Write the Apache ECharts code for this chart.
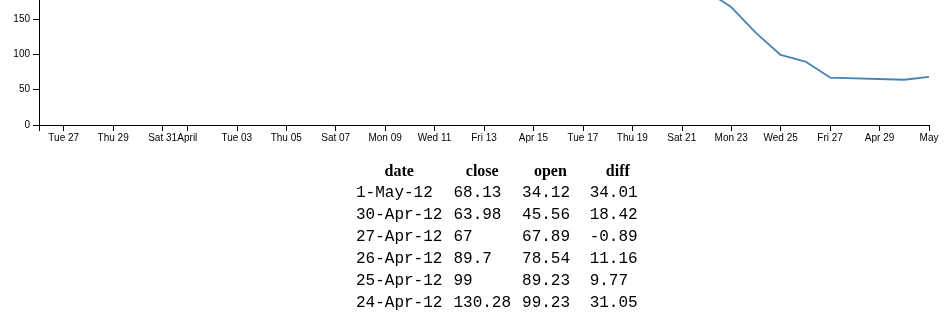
<!DOCTYPE html>
<html>
<head>
<meta charset="utf-8">
<script src="https://cdn.jsdelivr.net/npm/echarts@6/dist/echarts.min.js"></script>
<style>
  html, body { margin: 0; padding: 0; background: #fff; }
  #chart { position: absolute; left: 0; top: 0; width: 945px; height: 314px; }
  #tbl { position: absolute; left: 349.5px; top: 159px; border-collapse: separate; border-spacing: 2px; }
  #tbl th { font-family: "Liberation Serif", "Times New Roman", serif; font-weight: bold; font-size: 16px; padding: 1px 4.5px; text-align: center; }
  #tbl td { font-family: "Liberation Mono", "Courier New", monospace; font-size: 16px; padding: 1px 4.5px; text-align: left; white-space: pre; }
</style>
</head>
<body>
<div id="chart"></div>
<table id="tbl"><thead><tr id="hdr"></tr></thead><tbody id="body"></tbody></table>
<script>
// ---- chart data (date / close) ----
const dates = ['2012-03-26','2012-03-27','2012-03-28','2012-03-29','2012-03-30','2012-04-02','2012-04-03','2012-04-04','2012-04-05','2012-04-09','2012-04-10','2012-04-11','2012-04-12','2012-04-13','2012-04-16','2012-04-17','2012-04-18','2012-04-19','2012-04-20','2012-04-23','2012-04-24','2012-04-25','2012-04-26','2012-04-27','2012-04-30','2012-05-01'];
const closeValues = [606.98,614.48,617.62,609.86,599.55,618.63,629.32,624.31,633.68,636.23,628.44,626.20,622.77,605.23,580.13,543.70,443.34,345.44,234.98,166.70,130.28,99.00,89.70,67.00,63.98,68.13];

// ---- x axis ticks ----
const tickDates = ['2012-03-27','2012-03-29','2012-03-31','2012-04-01','2012-04-03','2012-04-05','2012-04-07','2012-04-09','2012-04-11','2012-04-13','2012-04-15','2012-04-17','2012-04-19','2012-04-21','2012-04-23','2012-04-25','2012-04-27','2012-04-29','2012-05-01'];
const tickLabels = ['Tue 27','Thu 29','Sat 31','April','Tue 03','Thu 05','Sat 07','Mon 09','Wed 11','Fri 13','Apr 15','Tue 17','Thu 19','Sat 21','Mon 23','Wed 25','Fri 27','Apr 29','May'];
const xDomain = ['2012-03-26','2012-05-01'];
const yDomain = [0, 636.23];
const yStep = 50;

// ---- table data ----
const tableHeaders = ['date','close','open','diff'];
const tableDates = ['1-May-12','30-Apr-12','27-Apr-12','26-Apr-12','25-Apr-12','24-Apr-12'];
const tableClose = ['68.13','63.98','67','89.7','99','130.28'];
const tableOpen = ['34.12','45.56','67.89','78.54','89.23','99.23'];
const tableDiff = ['34.01','18.42','-0.89','11.16','9.77','31.05'];

function ts(s) { const p = s.split('-').map(Number); return Date.UTC(p[0], p[1] - 1, p[2]); }

const tickTs = tickDates.map(ts);
const labelMap = {};
tickTs.forEach((t, i) => { labelMap[t] = tickLabels[i]; });

const chart = echarts.init(document.getElementById('chart'), null, { renderer: 'canvas' });
chart.setOption({
  animation: false,
  grid: { left: 39, top: -325, width: 890, height: 450, containLabel: false, outerBoundsMode: 'none' },
  xAxis: {
    type: 'value',
    min: ts(xDomain[0]),
    max: ts(xDomain[1]),
    splitLine: { show: false },
    axisLine: { show: true, onZero: false, lineStyle: { color: '#000', width: 1 } },
    axisTick: { show: true, length: 6, lineStyle: { color: '#000' }, customValues: [ts(xDomain[0])].concat(tickTs) },
    axisLabel: {
      customValues: tickTs,
      margin: 8,
      color: '#000',
      fontSize: 10,
      fontFamily: 'Liberation Sans, Arial, sans-serif',
      formatter: v => labelMap[v] || ''
    }
  },
  yAxis: {
    type: 'value',
    min: yDomain[0],
    max: yDomain[1],
    interval: yStep,
    splitLine: { show: false },
    axisLine: { show: true, lineStyle: { color: '#000', width: 1 } },
    axisTick: { show: true, length: 6, lineStyle: { color: '#000' } },
    axisLabel: { margin: 9, color: '#000', fontSize: 10, fontFamily: 'Liberation Sans, Arial, sans-serif', showMaxLabel: false }
  },
  series: [{
    type: 'line',
    data: dates.map((d, i) => [ts(d), closeValues[i]]),
    showSymbol: false,
    symbol: 'none',
    lineStyle: { color: '#4682b4', width: 1.8 },
    itemStyle: { color: '#4682b4' },
    clip: true
  }]
});

// build table
const hdr = document.getElementById('hdr');
const colWidths = [84, 56, 56.6, 56.4];
tableHeaders.forEach((h, i) => {
  const th = document.createElement('th');
  th.textContent = h;
  th.style.minWidth = colWidths[i] + 'px';
  hdr.appendChild(th);
});
const body = document.getElementById('body');
tableDates.forEach((d, i) => {
  const tr = document.createElement('tr');
  [d, tableClose[i], tableOpen[i], tableDiff[i]].forEach(v => {
    const td = document.createElement('td');
    td.textContent = v;
    tr.appendChild(td);
  });
  body.appendChild(tr);
});
</script>
</body>
</html>
